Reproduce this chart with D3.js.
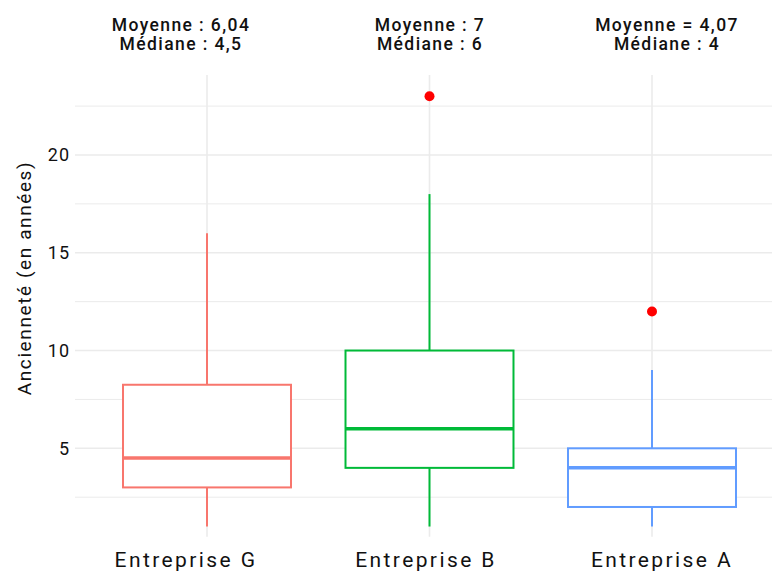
<!DOCTYPE html>
<html><head><meta charset="utf-8">
<script src="https://cdn.jsdelivr.net/npm/d3@7"></script>
<style>
body{margin:0;background:#fff;}
text{font-family:Roboto,"DejaVu Sans",sans-serif;fill:#111;}
</style></head>
<body><svg id="c" width="772" height="571"></svg>
<script>
const categories = ["Entreprise G","Entreprise B","Entreprise A"];
const colors = ["#F8766D","#00BA38","#619CFF"];
const whiskerLow = [1, 1, 1];
const q1 = [3, 4, 2];
const median = [4.5, 6, 4];
const q3 = [8.25, 10, 5];
const whiskerHigh = [16, 18, 9];
const outliers = [[], [23], [12]];
const annot1 = ["Moyenne : 6,04","Moyenne : 7","Moyenne = 4,07"];
const annot2 = ["Médiane : 4,5","Médiane : 6","Médiane : 4"];
const yTicks = [5,10,15,20];
const yMinor = [2.5,7.5,12.5,17.5,22.5];

const svg = d3.select("#c");
const L=75, R=772, T=75, B=536.7;
const x = d3.scaleBand().domain(categories).range([95.75,763.25]).paddingInner(0).paddingOuter(0);
const y = d3.scaleLinear().domain([0.48,24.09]).range([B,T]);
// text placement scales (labels in the reference sit slightly off the box centres)
const xLabel = d3.scaleOrdinal().domain(categories).range([186, 426, 662]);
const xAnnot = d3.scaleOrdinal().domain(categories).range([181, 430, 667]);
const bw = x.bandwidth()*0.755;
const cxOf = c => x(c)+x.bandwidth()/2;

const g = svg.append("g");
g.selectAll(".mn").data(yMinor).join("line")
 .attr("x1",L).attr("x2",R).attr("y1",d=>y(d)).attr("y2",d=>y(d))
 .attr("stroke","#ebebeb").attr("stroke-width",1);
g.selectAll(".mj").data(yTicks).join("line")
 .attr("x1",L).attr("x2",R).attr("y1",d=>y(d)).attr("y2",d=>y(d))
 .attr("stroke","#ebebeb").attr("stroke-width",1.6);
g.selectAll(".vx").data(categories).join("line")
 .attr("x1",cxOf).attr("x2",cxOf).attr("y1",T).attr("y2",B)
 .attr("stroke","#ebebeb").attr("stroke-width",1.6);

// y axis labels
g.selectAll(".yt").data(yTicks).join("text")
 .attr("x",70).attr("y",d=>y(d)).attr("dy","0.36em").attr("text-anchor","end")
 .style("font-size","18px").style("letter-spacing","1px").text(d=>d);
svg.append("text").attr("transform",`translate(31,278) rotate(-90)`)
 .attr("text-anchor","middle").style("font-size","19px").style("letter-spacing","1.6px").text("Ancienneté (en années)");

// x labels
g.selectAll(".xt").data(categories).join("text")
 .attr("x",d=>xLabel(d)).attr("y",567).attr("text-anchor","middle")
 .style("font-size","21px").style("letter-spacing","2.4px").text(d=>d);

// annotations
g.selectAll(".a1").data(categories).join("text")
 .attr("x",d=>xAnnot(d)).attr("y",30.7).attr("text-anchor","middle")
 .style("font-size","17.5px").style("letter-spacing","1.4px").style("font-weight","500").text((d,i)=>annot1[i]);
g.selectAll(".a2").data(categories).join("text")
 .attr("x",d=>xAnnot(d)).attr("y",50).attr("text-anchor","middle")
 .style("font-size","17.5px").style("letter-spacing","1.4px").style("font-weight","500").text((d,i)=>annot2[i]);

// boxes
categories.forEach((c,i)=>{
  const cx = cxOf(c);
  const col = colors[i];
  g.append("line").attr("x1",cx).attr("x2",cx).attr("y1",y(q3[i])).attr("y2",y(whiskerHigh[i])).attr("stroke",col).attr("stroke-width",2);
  g.append("line").attr("x1",cx).attr("x2",cx).attr("y1",y(q1[i])).attr("y2",y(whiskerLow[i])).attr("stroke",col).attr("stroke-width",2);
  g.append("rect").attr("x",cx-bw/2).attr("width",bw).attr("y",y(q3[i])).attr("height",y(q1[i])-y(q3[i]))
   .attr("fill","#fff").attr("stroke",col).attr("stroke-width",2);
  g.append("line").attr("x1",cx-bw/2).attr("x2",cx+bw/2).attr("y1",y(median[i])).attr("y2",y(median[i])).attr("stroke",col).attr("stroke-width",3.5);
  g.selectAll(null).data(outliers[i]).join("circle").attr("cx",cx).attr("cy",d=>y(d)).attr("r",5).attr("fill","#ff0000");
});
</script></body></html>
